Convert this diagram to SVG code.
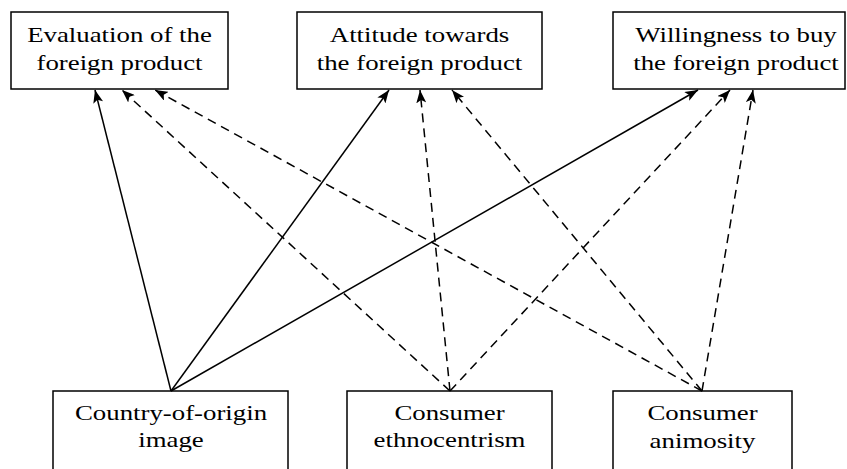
<svg xmlns="http://www.w3.org/2000/svg" width="847" height="469" viewBox="0 0 847 469">
<style>
.box{fill:#fff;stroke:#000;stroke-width:1.5}
.t{font-size:22px;fill:#000;text-anchor:middle}
.s{stroke:#000;stroke-width:1.5;fill:none}
.d{stroke:#000;stroke-width:1.5;fill:none;stroke-dasharray:9 6}
</style>
<defs>
<marker id="ah" markerUnits="userSpaceOnUse" markerWidth="14" markerHeight="10" refX="13" refY="5" orient="auto">
<path d="M0,0 L13,5 L0,10 L3,5 Z" fill="#000"/>
</marker>
</defs>
<rect width="847" height="469" fill="#fff"/>
<g id="eval">
<rect class="box" x="11" y="12" width="217" height="77"/>
<g transform="translate(119.5 0) scale(1.22 1)" style="font-family:'Liberation Serif',serif">
<text class="t" x="0" y="42">Evaluation of the</text>
<text class="t" x="0" y="70">foreign product</text>
</g>
</g>
<g id="attitude">
<rect class="box" x="297" y="12" width="245" height="77"/>
<g transform="translate(419.5 0) scale(1.22 1)" style="font-family:'Liberation Serif',serif">
<text class="t" x="0" y="42">Attitude towards</text>
<text class="t" x="0" y="70">the foreign product</text>
</g>
</g>
<g id="willingness">
<rect class="box" x="613" y="12" width="232" height="77"/>
<g transform="translate(736 0) scale(1.22 1)" style="font-family:'Liberation Serif',serif">
<text class="t" x="0" y="42">Willingness to buy</text>
<text class="t" x="0" y="70">the foreign product</text>
</g>
</g>
<g id="coo">
<rect class="box" x="53" y="391" width="235" height="100"/>
<g transform="translate(171 0) scale(1.22 1)" style="font-family:'Liberation Serif',serif">
<text class="t" x="0" y="420">Country-of-origin</text>
<text class="t" x="0" y="447">image</text>
</g>
</g>
<g id="ethno">
<rect class="box" x="347" y="391" width="205" height="100"/>
<g transform="translate(449.5 0) scale(1.22 1)" style="font-family:'Liberation Serif',serif">
<text class="t" x="0" y="420">Consumer</text>
<text class="t" x="0" y="447">ethnocentrism</text>
</g>
</g>
<g id="animosity">
<rect class="box" x="613" y="391" width="179" height="100"/>
<g transform="translate(702.5 0) scale(1.22 1)" style="font-family:'Liberation Serif',serif">
<text class="t" x="0" y="420">Consumer</text>
<text class="t" x="0" y="448">animosity</text>
</g>
</g>
<g id="connectors">
<line class="s" x1="171" y1="391" x2="95" y2="90" marker-end="url(#ah)"/>
<line class="s" x1="171" y1="391" x2="389" y2="90" marker-end="url(#ah)"/>
<line class="s" x1="171" y1="391" x2="698" y2="90" marker-end="url(#ah)"/>
<line class="d" x1="450" y1="391" x2="122" y2="90" marker-end="url(#ah)"/>
<line class="d" x1="450" y1="391" x2="420" y2="90" marker-end="url(#ah)"/>
<line class="d" x1="450" y1="391" x2="730" y2="90" marker-end="url(#ah)"/>
<line class="d" x1="702" y1="391" x2="155" y2="90" marker-end="url(#ah)"/>
<line class="d" x1="702" y1="391" x2="452" y2="90" marker-end="url(#ah)"/>
<line class="d" x1="702" y1="391" x2="753" y2="90" marker-end="url(#ah)"/>
</g>
</svg>
